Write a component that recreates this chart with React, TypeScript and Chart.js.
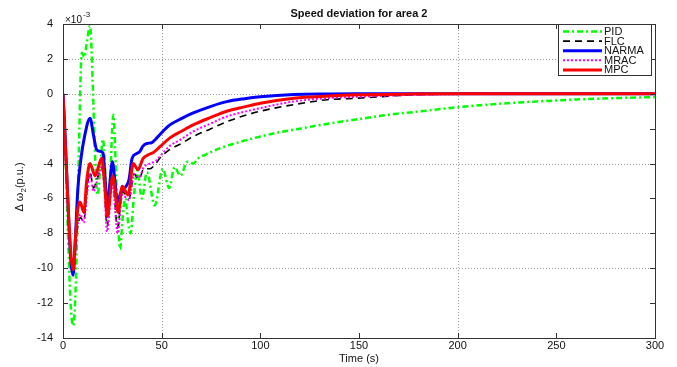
import React, { useEffect, useRef } from "react";
import { Chart, registerables } from "chart.js";
Chart.register(...registerables);

// ---------- data (values in units of 1e-3 p.u.) ----------
const tPID = [0, 1, 2.5, 4, 5.2, 6.5, 8, 9.5, 10.8, 12, 13.7, 15, 16.3, 17.5, 18.8, 20.2, 21.3, 22.4, 24, 25.5, 27.2, 28.9, 30.3, 31.6, 33, 34.2, 36, 37.6, 40, 42.5, 46.5, 50.5, 53.8, 56.5, 59.5, 63, 66, 68.5, 72, 80, 90, 100, 110, 120, 135, 150, 165, 180, 200, 220, 240, 260, 280, 300];
const vPID = [0, -2.5, -8, -12.3, -13.3, -10.8, -3.5, 2.35, 2.1, 2.9, 3.9, 0.8, -3.8, -5.8, -4.4, -2.6, -4.2, -7.3, -4.5, -1.2, -5.5, -8.9, -7.0, -6.0, -7.4, -8.0, -5.8, -4.4, -6.0, -4.5, -6.4, -4.3, -5.4, -4.2, -4.7, -3.9, -4.0, -3.7, -3.5, -3.1, -2.75, -2.45, -2.2, -2.0, -1.7, -1.45, -1.2, -1.02, -0.77, -0.58, -0.44, -0.33, -0.25, -0.19];

const tFLC = [0, 1, 2.5, 4, 5.2, 6.5, 8, 8.8, 10.5, 12, 13.7, 15.5, 17, 19.5, 21, 22.3, 25, 27.7, 30, 33.5, 36, 38.5, 41, 44, 47, 49, 54, 60, 66, 75, 83, 92, 100, 117, 134, 150, 175, 200, 230, 300];
const vFLC = [0, -2.5, -6.3, -9.3, -9.8, -8.4, -7.3, -7.1, -7.3, -5.7, -4.5, -5.4, -5.0, -4.2, -5.4, -7.6, -4.9, -7.7, -5.6, -6.0, -4.6, -4.9, -4.3, -4.3, -4.0, -3.7, -3.2, -2.85, -2.45, -2.0, -1.6, -1.25, -1.0, -0.62, -0.34, -0.25, -0.07, -0.01, 0, 0];

const tNARMA = [0, 1, 2.5, 4, 5.1, 6.2, 7.5, 9, 11, 13.7, 15.5, 17, 18.5, 20.3, 21.3, 22.5, 23.7, 25, 26.3, 27.5, 29.5, 32, 33.5, 35, 37, 39, 40.5, 42.5, 45, 47, 49, 54, 60, 66, 75, 83, 92, 100, 117, 135, 150, 200, 300];
const vNARMA = [0, -2.2, -6.2, -9.6, -10.4, -8.5, -5.5, -3.8, -2.4, -1.4, -2.4, -3.2, -3.3, -3.4, -4.8, -6.5, -5.2, -3.9, -5.0, -6.2, -5.6, -5.3, -4.9, -3.7, -3.45, -3.3, -3.0, -2.85, -2.8, -2.6, -2.35, -1.8, -1.42, -1.1, -0.72, -0.45, -0.28, -0.17, -0.04, -0.01, 0, 0, 0];

const tMRAC = [0, 1, 2.5, 4, 5.2, 6.5, 8, 8.8, 10.5, 12, 13.7, 15.5, 17, 19.5, 21, 22.3, 25, 27.7, 30, 33.5, 36, 38.5, 41, 44, 47, 49, 54, 60, 66, 75, 83, 92, 100, 117, 134, 150, 175, 200, 230, 300];
const vMRAC = [0, -2.5, -6.3, -9.3, -9.9, -8.3, -7.1, -6.9, -7.4, -5.9, -4.6, -5.6, -5.1, -4.2, -5.5, -7.9, -5.1, -8.0, -5.8, -6.1, -4.6, -4.8, -4.2, -4.0, -3.85, -3.6, -3.0, -2.6, -2.16, -1.7, -1.3, -1.03, -0.82, -0.44, -0.25, -0.17, -0.07, -0.02, 0, 0];

const tMPC = [0, 1, 2.5, 4, 5.2, 6.5, 7.5, 8.6, 10.6, 12, 13.7, 16.2, 19.6, 21, 22.5, 25.2, 28, 30, 33, 35.6, 38, 40.6, 43.2, 46, 49, 54, 60, 66, 75, 83, 92, 100, 117, 134, 150, 175, 200, 300];
const vMPC = [0, -2.5, -6.2, -9.2, -10.1, -8.0, -6.6, -6.2, -6.8, -5.0, -4.0, -4.7, -3.7, -5.0, -7.0, -4.7, -6.8, -5.3, -5.8, -4.0, -4.35, -3.7, -3.5, -3.35, -3.05, -2.54, -2.15, -1.78, -1.35, -1.0, -0.75, -0.54, -0.25, -0.13, -0.06, -0.02, 0, 0];

const seriesNames = ["PID", "FLC", "NARMA", "MRAC", "MPC"];
const xTicks = [0, 50, 100, 150, 200, 250, 300];
const yTicks = [-14, -12, -10, -8, -6, -4, -2, 0, 2, 4];
const gridX = [50, 200];
const gridY = [2, 0, -4, -8, -10];

// ---------- styles ----------
const FONT = "'Liberation Sans', Arial, Helvetica, sans-serif";
const styles = [
  { color: "#00ff00", dash: [6, 3, 2, 3], width: 2.5 },
  { color: "#000000", dash: [7, 5], width: 1.6 },
  { color: "#0000ff", dash: [], width: 3 },
  { color: "#ff00ff", dash: [2, 2], width: 2 },
  { color: "#ff0000", dash: [], width: 3 },
];

const seriesT = [tPID, tFLC, tNARMA, tMRAC, tMPC];
const seriesV = [vPID, vFLC, vNARMA, vMRAC, vMPC];

const decoPlugin = {
  id: "deco",
  beforeDatasetsDraw(chart: any) {
    const { ctx, chartArea: a, scales } = chart;
    const x = scales.x, y = scales.y;
    ctx.save();
    ctx.lineWidth = 1;
    ctx.setLineDash([1, 2]);
    ctx.strokeStyle = "#9a9a9a";
    gridX.forEach((v) => {
      const px = Math.round(x.getPixelForValue(v)) + 0.5;
      ctx.beginPath(); ctx.moveTo(px, a.top); ctx.lineTo(px, a.bottom); ctx.stroke();
    });
    gridY.forEach((v) => {
      const py = Math.round(y.getPixelForValue(v)) + 0.5;
      ctx.beginPath(); ctx.moveTo(a.left, py); ctx.lineTo(a.right, py); ctx.stroke();
    });
    ctx.restore();
  },
  afterDatasetsDraw(chart: any) {
    const { ctx, chartArea: a, scales } = chart;
    const x = scales.x, y = scales.y;
    ctx.save();
    // box
    ctx.setLineDash([]);
    ctx.strokeStyle = "#333";
    ctx.lineWidth = 1;
    ctx.strokeRect(a.left + 0.5, a.top + 0.5, a.right - a.left, a.bottom - a.top);
    // inward ticks
    ctx.beginPath();
    xTicks.forEach((v) => {
      const px = Math.round(x.getPixelForValue(v)) + 0.5;
      ctx.moveTo(px, a.bottom); ctx.lineTo(px, a.bottom - 5);
      ctx.moveTo(px, a.top); ctx.lineTo(px, a.top + 5);
    });
    yTicks.forEach((v) => {
      const py = Math.round(y.getPixelForValue(v)) + 0.5;
      ctx.moveTo(a.left, py); ctx.lineTo(a.left + 5, py);
      ctx.moveTo(a.right, py); ctx.lineTo(a.right - 5, py);
    });
    ctx.stroke();

    // legend
    const lx = 558.5, ly = 24.5, lw = 93, lh = 51;
    ctx.fillStyle = "#fff";
    ctx.fillRect(lx, ly, lw, lh);
    ctx.strokeStyle = "#333";
    ctx.strokeRect(lx, ly, lw, lh);
    ctx.font = `11px ${FONT}`;
    ctx.textBaseline = "middle";
    ctx.textAlign = "left";
    seriesNames.forEach((name, i) => {
      const yy = 31.5 + i * 9.6;
      const s = styles[i];
      ctx.strokeStyle = s.color;
      ctx.lineWidth = s.width;
      ctx.setLineDash(s.dash);
      ctx.beginPath(); ctx.moveTo(563, yy); ctx.lineTo(602, yy); ctx.stroke();
      ctx.setLineDash([]);
      ctx.fillStyle = "#111";
      ctx.fillText(name, 604, yy + 0.5);
    });

    // title
    ctx.fillStyle = "#111";
    ctx.font = `bold 11px ${FONT}`;
    ctx.textAlign = "center";
    ctx.fillText("Speed deviation for area 2", (a.left + a.right) / 2, 14);
    // x title
    ctx.font = `11px ${FONT}`;
    ctx.fillText("Time (s)", (a.left + a.right) / 2, 359);
    // exponent
    ctx.textAlign = "left";
    ctx.font = `10px ${FONT}`;
    ctx.fillText("\u00d710", 65, 20);
    ctx.font = `8px ${FONT}`;
    ctx.fillText("-3", 83, 15);
    // y title
    ctx.translate(20, 187);
    ctx.rotate(-Math.PI / 2);
    const p1 = "\u0394 \u03c9";
    const p3 = "(p.u.)";
    ctx.font = `11px ${FONT}`;
    const w1 = ctx.measureText(p1).width;
    const w3 = ctx.measureText(p3).width;
    ctx.font = `8px ${FONT}`;
    const w2 = ctx.measureText("2").width;
    let sx = -(w1 + w2 + w3) / 2;
    ctx.font = `11px ${FONT}`;
    ctx.fillText(p1, sx, 0);
    sx += w1;
    ctx.font = `8px ${FONT}`;
    ctx.fillText("2", sx, 4);
    sx += w2;
    ctx.font = `11px ${FONT}`;
    ctx.fillText(p3, sx, 0);
    ctx.restore();
  },
};

export default function App() {
  const ref = useRef<HTMLCanvasElement>(null);
  useEffect(() => {
    if (!ref.current) return;
    const datasets = seriesNames.map((name, i) => ({
      label: name,
      data: seriesT[i].map((t, j) => ({ x: t, y: seriesV[i][j] })),
      borderColor: styles[i].color,
      borderWidth: styles[i].width,
      borderDash: styles[i].dash,
      pointRadius: 0,
      fill: false,
      cubicInterpolationMode: "monotone" as const,
      order: 4 - i,
    }));
    const chart = new Chart(ref.current, {
      type: "line",
      data: { datasets },
      options: {
        animation: false,
        responsive: false,
        devicePixelRatio: 1,
        layout: { padding: { left: 0, top: 24, right: 22, bottom: 0 } },
        plugins: { legend: { display: false }, tooltip: { enabled: false }, title: { display: false } },
        scales: {
          x: {
            type: "linear",
            min: 0,
            max: 300,
            afterBuildTicks: (s: any) => { s.ticks = xTicks.map((v) => ({ value: v })); },
            afterFit: (s: any) => { s.height = 29; },
            grid: { display: false, drawTicks: false },
            border: { display: false },
            ticks: { padding: 1, color: "#111", font: { family: FONT, size: 11 }, maxRotation: 0 },
          },
          y: {
            type: "linear",
            min: -14,
            max: 4,
            afterBuildTicks: (s: any) => { s.ticks = yTicks.map((v) => ({ value: v })); },
            afterFit: (s: any) => { s.width = 63; },
            grid: { display: false, drawTicks: false },
            border: { display: false },
            ticks: { padding: 10, color: "#111", font: { family: FONT, size: 11 } },
          },
        },
      },
      plugins: [decoPlugin],
    });
    return () => chart.destroy();
  }, []);
  return (
    <div style={{ position: "absolute", left: 0, top: 0, width: 677, height: 367, background: "#fff" }}>
      <canvas ref={ref} width={677} height={367} />
    </div>
  );
}
